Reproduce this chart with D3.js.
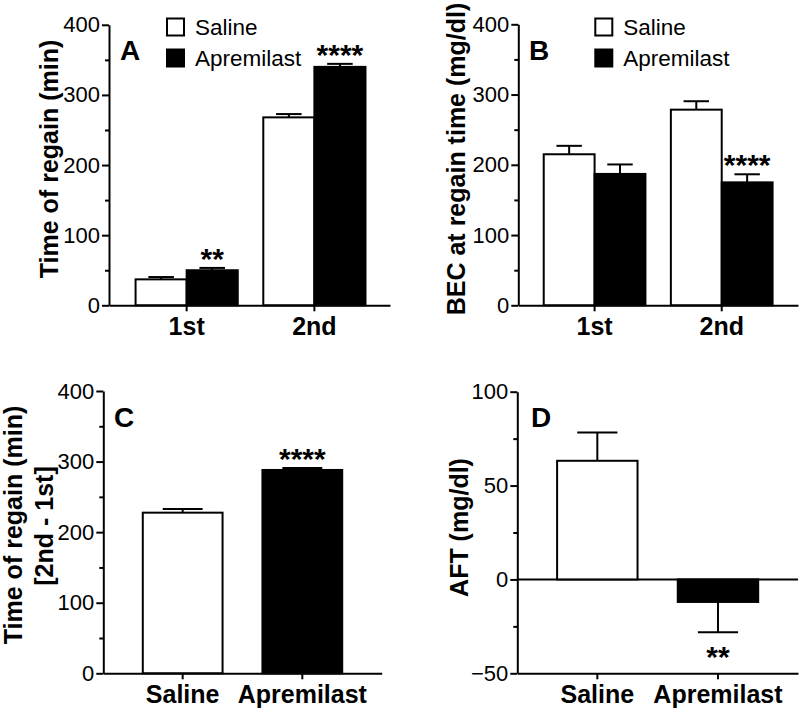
<!DOCTYPE html>
<html><head><meta charset="utf-8">
<script src="https://cdn.jsdelivr.net/npm/d3@7"></script>
<style>
body{margin:0;background:#fff;}
svg{display:block;font-family:"Liberation Sans",Arial,Helvetica,sans-serif;}
</style></head><body>
<svg id="chart" width="800" height="713"></svg>
<script>
// ---------- data ----------
const seriesNames = ["Saline", "Apremilast"];
const seriesFills = ["#ffffff", "#000000"];

// Panel A: time of regain (min)
const sessions = ["1st", "2nd"];
const regainSaline = [37, 268];
const regainSalineSem = [3.3, 4.7];
const regainApremilast = [50, 340];
const regainApremilastSem = [3.3, 4.3];
const regainSig = [{category: "1st", series: 1, text: "**"}, {category: "2nd", series: 1, text: "****"}];

// Panel B: BEC at regain time (mg/dl)
const becSaline = [215, 278.5];
const becSalineSem = [12, 12];
const becApremilast = [187, 175];
const becApremilastSem = [13.5, 11.5];
const becSig = [{category: "2nd", series: 1, text: "****"}];

// Panel C: time of regain difference
const diffValues = [227.6, 288.1];
const diffSem = [5.2, 2.8];
const diffSig = [{category: "Apremilast", text: "****"}];

// Panel D: AFT (mg/dl)
const aftValues = [63.2, -12];
const aftSem = [15.1, 16.1];
const aftSig = [{category: "Apremilast", text: "**"}];

// ticks
const ticks400 = [0, 100, 200, 300, 400];
const minor400 = [50, 150, 250, 350];
const ticksAft = [-50, 0, 50, 100];
const minorAft = [-25, 25, 75];

// ---------- drawing ----------
const svg = d3.select("#chart");
const FONT_TICK = 22, FONT_BOLD = 25;

function styleAxis(g) {
  g.attr("font-family", null).attr("font-size", null);
  g.selectAll("path.domain").attr("stroke", "#000").attr("stroke-width", 2);
  g.selectAll(".tick line").attr("stroke", "#000").attr("stroke-width", 2);
}

function yAxes(g, y, x0, major, minor) {
  const ga = g.append("g").attr("transform", `translate(${x0},0)`)
    .call(d3.axisLeft(y).tickValues(major).tickSize(7).tickPadding(2).tickSizeOuter(0).tickFormat(d3.format("d")));
  styleAxis(ga);
  ga.selectAll("text").attr("font-size", FONT_TICK).attr("fill", "#000");
  const gm = g.append("g").attr("transform", `translate(${x0},0)`)
    .call(d3.axisLeft(y).tickValues(minor).tickSize(4).tickFormat(""));
  gm.select("path.domain").remove();
  styleAxis(gm);
}

function xAxis(g, x, y0) {
  const ga = g.append("g").attr("transform", `translate(0,${y0})`)
    .call(d3.axisBottom(x).tickSize(6).tickPadding(6).tickSizeOuter(0));
  styleAxis(ga);
  ga.selectAll("text").attr("font-size", FONT_BOLD).attr("font-weight", "bold").attr("fill", "#000");
}

function errorBar(g, cx, capW, yFrom, yTo) {
  g.append("line").attr("x1", cx).attr("x2", cx).attr("y1", yFrom).attr("y2", yTo)
    .attr("stroke", "#000").attr("stroke-width", 2);
  g.append("line").attr("x1", cx - capW / 2).attr("x2", cx + capW / 2).attr("y1", yTo).attr("y2", yTo)
    .attr("stroke", "#000").attr("stroke-width", 2);
}

function yTitle(lines, cy) {
  lines.forEach(l => {
    svg.append("text").attr("transform", `translate(${l.bx},${cy + (l.dy || 0)}) rotate(-90)`)
      .attr("text-anchor", "middle").attr("font-size", FONT_BOLD).attr("font-weight", "bold")
      .text(l.text);
  });
}

function panelLetter(t, x, y) {
  svg.append("text").attr("x", x).attr("y", y).attr("font-size", 28).attr("font-weight", "bold").text(t);
}

function legend(x, y) {
  const g = svg.append("g");
  seriesNames.forEach((s, i) => {
    const yy = y + i * 31;
    g.append("rect").attr("x", x + 1).attr("y", yy + 1).attr("width", 17).attr("height", 17)
      .attr("fill", seriesFills[i]).attr("stroke", "#000").attr("stroke-width", 2);
    g.append("text").attr("x", x + 29).attr("y", yy + 17).attr("font-size", 22.5).text(s);
  });
}

// grouped panel (A, B)
function groupedPanel(opt) {
  const g = svg.append("g");
  const x = d3.scaleBand().domain(sessions).range(opt.xr).paddingInner(0.2).paddingOuter(0.2).align(opt.align);
  const xs = d3.scaleBand().domain(d3.range(seriesNames.length)).range([0, x.bandwidth()]);
  const y = d3.scaleLinear().domain([0, 400]).range(opt.yr);
  const vals = [opt.saline, opt.aprem];
  const sems = [opt.salineSem, opt.apremSem];
  seriesNames.forEach((s, si) => {
    sessions.forEach((c, ci) => {
      const bx = x(c) + xs(si);
      const v = vals[si][ci];
      const cx = bx + xs.bandwidth() / 2;
      errorBar(g, cx, xs.bandwidth() / 2, y(v), y(v + sems[si][ci]));
      g.append("rect").attr("x", bx).attr("y", y(v)).attr("width", xs.bandwidth())
        .attr("height", y(0) - y(v)).attr("fill", seriesFills[si]).attr("stroke", "#000").attr("stroke-width", 2);
    });
  });
  opt.sig.forEach(a => {
    const ci = sessions.indexOf(a.category);
    const cx = x(a.category) + xs(a.series) + xs.bandwidth() / 2;
    const top = vals[a.series][ci] + sems[a.series][ci];
    g.append("text").attr("x", cx).attr("y", y(top) + 1).attr("text-anchor", "middle")
      .attr("font-size", 30).attr("font-weight", "bold").text(a.text);
  });
  yAxes(g, y, opt.xr[0], ticks400, minor400);
  xAxis(g, x, opt.yr[0]);
}

// single-series panel (C, D)
function singlePanel(opt) {
  const g = svg.append("g");
  const x = d3.scaleBand().domain(seriesNames).range(opt.xr).paddingInner(1 / 3).paddingOuter(0.33).align(0.5);
  const y = d3.scaleLinear().domain(opt.yd).range(opt.yr);
  if (opt.yd[0] < 0) {
    g.append("line").attr("x1", opt.xr[0]).attr("x2", opt.xr[1]).attr("y1", y(0)).attr("y2", y(0))
      .attr("stroke", "#000").attr("stroke-width", 2);
  }
  seriesNames.forEach((s, i) => {
    const v = opt.values[i];
    const cx = x(s) + x.bandwidth() / 2;
    const sgn = v >= 0 ? 1 : -1;
    errorBar(g, cx, x.bandwidth() / 2, y(v), y(v + sgn * opt.sem[i]));
    g.append("rect").attr("x", x(s)).attr("y", y(Math.max(0, v))).attr("width", x.bandwidth())
      .attr("height", Math.abs(y(v) - y(0))).attr("fill", seriesFills[i]).attr("stroke", "#000").attr("stroke-width", 2);
  });
  opt.sig.forEach(a => {
    const i = seriesNames.indexOf(a.category);
    const v = opt.values[i];
    const cx = x(a.category) + x.bandwidth() / 2;
    if (v >= 0) {
      g.append("text").attr("x", cx).attr("y", y(v + opt.sem[i]) + 1).attr("text-anchor", "middle")
        .attr("font-size", 30).attr("font-weight", "bold").text(a.text);
    } else {
      g.append("text").attr("x", cx).attr("y", y(v - opt.sem[i]) + 35).attr("text-anchor", "middle")
        .attr("font-size", 30).attr("font-weight", "bold").text(a.text);
    }
  });
  yAxes(g, y, opt.xr[0], opt.ticks, opt.minor);
  xAxis(g, x, opt.yr[0]);
}

// Panel A
groupedPanel({xr: [109, 390], yr: [305.3, 24.8], align: 0.52,
  saline: regainSaline, salineSem: regainSalineSem, aprem: regainApremilast, apremSem: regainApremilastSem, sig: regainSig});
yTitle([{text: "Time of regain (min)", bx: 57.6}], 159);
panelLetter("A", 120, 60);
legend(166, 17.5);

// Panel B
groupedPanel({xr: [518.3, 798], yr: [305.3, 24.3], align: 0.5,
  saline: becSaline, salineSem: becSalineSem, aprem: becApremilast, apremSem: becApremilastSem, sig: becSig});
yTitle([{text: "BEC at regain time (mg/dl)", bx: 465}], 159);
panelLetter("B", 529, 60);
legend(594.3, 17.5);

// Panel C
singlePanel({xr: [103.3, 381.7], yr: [673.3, 391], yd: [0, 400], ticks: ticks400, minor: minor400,
  values: diffValues, sem: diffSem, sig: diffSig});
yTitle([{text: "Time of regain (min)", bx: 21.6, dy: -1}, {text: "[2nd - 1st]", bx: 53.3, dy: 0}], 526);
panelLetter("C", 114, 427);

// Panel D
singlePanel({xr: [517.3, 798], yr: [673.3, 391.7], yd: [-50, 100], ticks: ticksAft, minor: minorAft,
  values: aftValues, sem: aftSem, sig: aftSig});
yTitle([{text: "AFT (mg/dl)", bx: 467.5}], 527.5);
panelLetter("D", 531, 427.3);
</script>
</body></html>
